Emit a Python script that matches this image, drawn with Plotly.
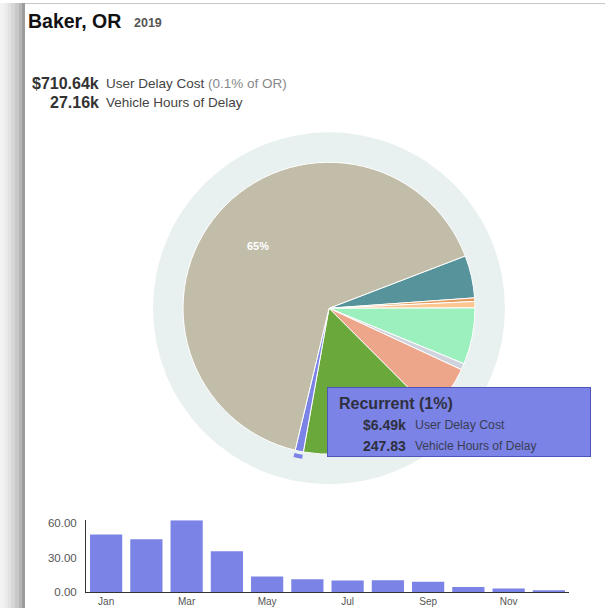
import math
import plotly.graph_objects as go

W, H = 613, 614
FONT = "Liberation Sans, Arial, sans-serif"

# ---------------- data ----------------
place = "Baker, OR"
year = "2019"
causes = ["Weather", "Special Event", "Holiday", "Work Zone", "Lane Closure",
          "Incident", "Crash", "Recurrent", "Other"]
delay_cost_k = [33.4, 2.8, 5.0, 44.4, 5.0, 39.8, 108.7, 6.49, 465.05]
cause_colors = ["#56939a", "#e49a5a", "#fcc690", "#9cf0bd", "#cfd4dc",
                "#eea68b", "#6aa83b", "#7b83e6", "#c1bda9"]
share_of_state = 0.1
vehicle_hours_k = 27.16
highlight = "Recurrent"
highlight_hours = 247.83

months = ["Jan", "Feb", "Mar", "Apr", "May", "Jun",
          "Jul", "Aug", "Sep", "Oct", "Nov", "Dec"]
monthly_hours = [50.2, 46.1, 62.6, 35.7, 13.6, 11.3, 10.1, 10.4, 9.0, 4.6, 3.2, 1.7]
y_ticks = [0, 30, 60]
month_ticks = ["Jan", "Mar", "May", "Jul", "Sep", "Nov"]

# ---------------- layout helpers (target pixel -> paper) ----------------
def px(x):
    return x / W

def py(y):
    return 1 - ((y - 2.7) / 0.9855) / H

def circle_domain(cx, cy, r):
    return dict(x=[px(cx - r), px(cx + r)], y=[py(cy + r), py(cy - r)])

total = sum(delay_cost_k)
pct = [v / total * 100 for v in delay_cost_k]
hi_idx = causes.index(highlight)

CX, CY = 329, 308
R_DOM = 146          # domain half-size of the main pie
R_DRAWN = 143        # radius plotly actually draws for that domain
ROT = 69

fig = go.Figure()

# background ring
fig.add_trace(go.Pie(values=[1], labels=["ring"], marker=dict(colors=["#e8f0f0"], line=dict(width=0)),
                     domain=circle_domain(CX, CY, 176), textinfo="none", hoverinfo="skip",
                     showlegend=False, sort=False))

# highlight arc outside the selected slice
fig.add_trace(go.Pie(values=delay_cost_k, labels=causes,
                     marker=dict(colors=[c if i == hi_idx else "rgba(0,0,0,0)" for i, c in enumerate(cause_colors)],
                                 line=dict(width=0)),
                     hole=0.973, domain=circle_domain(CX, CY, 153), textinfo="none",
                     hoverinfo="skip", showlegend=False, sort=False, direction="clockwise", rotation=ROT))

# main pie
fig.add_trace(go.Pie(values=delay_cost_k, labels=causes, textinfo="none",
                     marker=dict(colors=cause_colors, line=dict(color="white", width=1)),
                     domain=circle_domain(CX, CY, R_DOM), hoverinfo="skip",
                     showlegend=False, sort=False, direction="clockwise", rotation=ROT))

# monthly bars
fig.add_trace(go.Bar(x=months, y=monthly_hours, marker=dict(color="#7b83e6", line=dict(width=0)),
                     hoverinfo="skip", showlegend=False))

fig.update_layout(
    width=W, height=H, margin=dict(l=0, r=0, t=0, b=0),
    paper_bgcolor="white", plot_bgcolor="white",
    font=dict(family=FONT, color="#444"),
    bargap=0.2,
    xaxis=dict(domain=[px(86), px(569)], range=[-0.5, 11.5], type="category",
               showline=True, linecolor="#333", linewidth=1, showgrid=False, zeroline=False,
               tickmode="array", tickvals=month_ticks, ticktext=month_ticks,
               tickfont=dict(size=10, color="#555"), ticks=""),
    yaxis=dict(domain=[py(592), py(520)], range=[0, max(monthly_hours)],
               showline=True, linecolor="#333", linewidth=1, showgrid=False, zeroline=False,
               tickmode="array", tickvals=y_ticks, tickformat=".2f",
               tickfont=dict(size=11.5, color="#555"), ticks="", ticklabelstandoff=6),
)

shapes = []
# left card shadow
shadow = [(0, 3.5, "#f3f3f3"), (3.5, 7.3, "#ececec"), (7.3, 11, "#e2e2e2"), (11, 15, "#d6d6d6"),
          (15, 19, "#c8c8c8"), (19, 22, "#b6b6b6"), (22, 25, "#9c9c9c")]
for x0, x1, c in shadow:
    shapes.append(dict(type="rect", xref="paper", yref="paper", x0=px(x0), x1=px(x1), y0=0, y1=1,
                       fillcolor=c, line=dict(width=0), layer="below"))
shapes.append(dict(type="line", xref="paper", yref="paper", x0=px(25), x1=px(605), y0=0.999, y1=0.999,
                   line=dict(color="#c4c4c4", width=1)))
fig.update_layout(shapes=shapes)

ann = []
def text(x, y, s, size, color, anchor="left", bold=False):
    ann.append(dict(xref="paper", yref="paper", x=px(x), y=py(y), xanchor=anchor, yanchor="middle",
                    text=f"<b>{s}</b>" if bold else s, showarrow=False,
                    font=dict(size=size, color=color, family=FONT)))

# pie percentage labels for the large slices, at each slice's mid-angle
cum = 0.0
for v, p in zip(delay_cost_k, pct):
    mid = math.radians(ROT + (cum + v / 2) / total * 360)
    cum += v
    if p >= 10:
        lx = CX + 0.66 * R_DRAWN * math.sin(mid)
        ly = CY - 0.66 * R_DRAWN * math.cos(mid)
        ann.append(dict(xref="paper", yref="paper", x=px(lx), y=py(ly), xanchor="center", yanchor="middle",
                        text=f"<b>{round(p)}%</b>", showarrow=False,
                        font=dict(size=11, color="white", family=FONT)))

text(26, 21, place, 19.5, "#111", bold=True)
text(131.5, 22.5, year, 12.5, "#555", bold=True)
text(101, 83, f"${total:.2f}k", 16, "#333", anchor="right", bold=True)
text(104, 83, "User Delay Cost", 13.5, "#444")
text(206, 83, f"({share_of_state}% of OR)", 13.5, "#888")
text(101, 102, f"{vehicle_hours_k:.2f}k", 16, "#333", anchor="right", bold=True)
text(104, 102, "Vehicle Hours of Delay", 13.5, "#444")

# tooltip box (an annotation, so it covers the labels beneath it)
box_top, box_bottom = py(387), py(456)
ann.append(dict(xref="paper", yref="paper", x=px(327), y=box_top, xanchor="left", yanchor="top",
                text=" ", showarrow=False, width=262, height=round((box_top - box_bottom) * H) - 2,
                bgcolor="#7b83e6", bordercolor="#4d55b8", borderwidth=1, borderpad=0))
text(337, 403.5, f"{highlight} ({round(pct[hi_idx])}%)", 16, "#2e3040", bold=True)
text(408, 425, f"${delay_cost_k[hi_idx]:.2f}k", 14, "#2e3040", anchor="right", bold=True)
text(413, 425, "User Delay Cost", 12.3, "#3a3d55")
text(408, 446, f"{highlight_hours:.2f}", 14, "#2e3040", anchor="right", bold=True)
text(413, 446, "Vehicle Hours of Delay", 12, "#3a3d55")
fig.update_layout(annotations=ann)

fig.write_html("out.html", config={"displayModeBar": False},
               post_script="document.body.style.margin='0';document.body.style.overflow='hidden';")
